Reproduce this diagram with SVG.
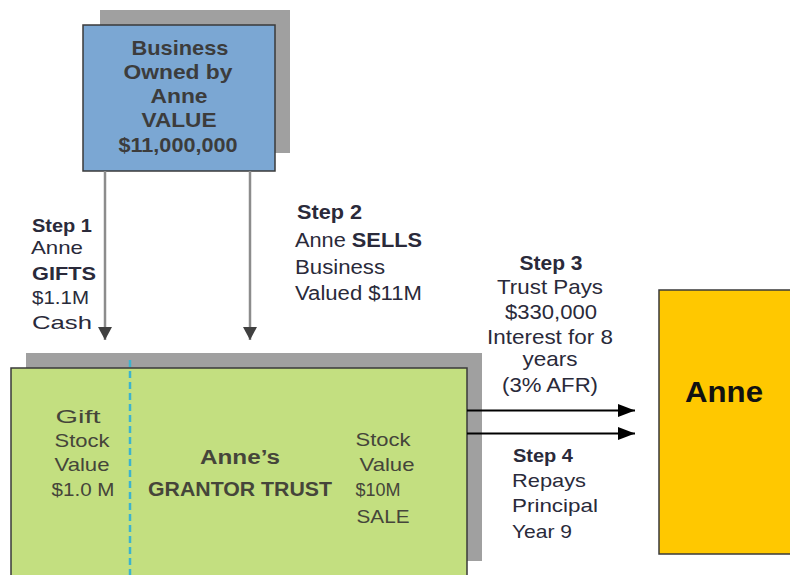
<svg xmlns="http://www.w3.org/2000/svg" width="790" height="575" viewBox="0 0 790 575">
  <defs>
    <marker id="headGray" viewBox="0 0 13 14" refX="13" refY="7" markerWidth="13" markerHeight="14" markerUnits="userSpaceOnUse" orient="auto">
      <path d="M0,0 L13,7 L0,14 Z" fill="#404040"/>
    </marker>
    <marker id="headBlack" viewBox="0 0 17 13" refX="17" refY="6.5" markerWidth="17" markerHeight="13" markerUnits="userSpaceOnUse" orient="auto">
      <path d="M0,0 L17,6.5 L0,13 Z" fill="#000"/>
    </marker>
  </defs>
  <style>
    text { font-family: "Liberation Sans", Arial, sans-serif; font-size: 19px; fill: #2a2a3a; }
    .b { font-weight: bold; }
    .c { text-anchor: middle; }
    .box-txt { fill: #3c3c3c; font-size: 21px; }
    .green-txt { fill: #45453a; font-size: 19px; }
    .step3 { font-size: 21px; }
    .step2 { font-size: 20px; }
    .shadow { fill: #a0a0a0; }
    .box { stroke: #3a3a3a; stroke-width: 1.5; }
  </style>
  <rect width="790" height="575" fill="#fff"/>

  <g id="business">
    <rect class="shadow" x="100" y="10" width="190" height="143"/>
    <rect class="box" x="83" y="25" width="192" height="146" fill="#7ba7d3"/>
    <text class="b c box-txt" x="180" y="55" textLength="97" lengthAdjust="spacingAndGlyphs">Business</text>
    <text class="b c box-txt" x="178" y="79" textLength="109" lengthAdjust="spacingAndGlyphs">Owned by</text>
    <text class="b c box-txt" x="179" y="103" textLength="57" lengthAdjust="spacingAndGlyphs">Anne</text>
    <text class="b c box-txt" x="179" y="127" textLength="75" lengthAdjust="spacingAndGlyphs">VALUE</text>
    <text class="b c box-txt" x="178" y="152" textLength="119" lengthAdjust="spacingAndGlyphs">$11,000,000</text>
  </g>

  <g id="trust">
    <rect class="shadow" x="26" y="353" width="456" height="208"/>
    <rect class="box" x="11" y="368" width="456" height="215" fill="#c3df80"/>
    <line x1="130" y1="360" x2="130" y2="575" stroke="#3db3cd" stroke-width="2.5" stroke-dasharray="7,4"/>
    <text class="c green-txt" x="78" y="423" textLength="45" lengthAdjust="spacingAndGlyphs">Gift</text>
    <text class="c green-txt" x="82" y="447" textLength="55" lengthAdjust="spacingAndGlyphs">Stock</text>
    <text class="c green-txt" x="82" y="471" textLength="55" lengthAdjust="spacingAndGlyphs">Value</text>
    <text class="c green-txt" x="83" y="496" textLength="63" lengthAdjust="spacingAndGlyphs">$1.0 M</text>
    <text class="b c green-txt" x="240" y="464" style="font-size:20px" textLength="80" lengthAdjust="spacingAndGlyphs">Anne’s</text>
    <text class="b c green-txt" x="240" y="496" style="font-size:20px" textLength="184" lengthAdjust="spacingAndGlyphs">GRANTOR TRUST</text>
    <text class="c green-txt" x="383" y="446" textLength="55" lengthAdjust="spacingAndGlyphs">Stock</text>
    <text class="c green-txt" x="387" y="471" textLength="55" lengthAdjust="spacingAndGlyphs">Value</text>
    <text class="c green-txt" x="378" y="496" textLength="45" lengthAdjust="spacingAndGlyphs">$10M</text>
    <text class="c green-txt" x="383" y="523" textLength="53" lengthAdjust="spacingAndGlyphs">SALE</text>
  </g>

  <g id="anne">
    <rect class="box" x="659" y="290" width="140" height="264" fill="#ffc800"/>
    <text class="b c" x="724" y="402" style="font-size:30px; fill:#111" textLength="78" lengthAdjust="spacingAndGlyphs">Anne</text>
  </g>

  <g id="connectors">
    <line x1="105" y1="171" x2="105" y2="340" stroke="#8c8c8c" stroke-width="2.5" marker-end="url(#headGray)"/>
    <line x1="250" y1="171" x2="250" y2="340" stroke="#8c8c8c" stroke-width="2.5" marker-end="url(#headGray)"/>
    <line x1="467" y1="410.5" x2="635" y2="410.5" stroke="#000" stroke-width="2" marker-end="url(#headBlack)"/>
    <line x1="467" y1="433.5" x2="635" y2="433.5" stroke="#000" stroke-width="2" marker-end="url(#headBlack)"/>
  </g>

  <g id="labels">
    <text class="b" x="32" y="232" textLength="60" lengthAdjust="spacingAndGlyphs">Step 1</text>
    <text x="31" y="254" textLength="52" lengthAdjust="spacingAndGlyphs">Anne</text>
    <text class="b" x="32" y="280" textLength="64" lengthAdjust="spacingAndGlyphs">GIFTS</text>
    <text x="32" y="304" textLength="57" lengthAdjust="spacingAndGlyphs">$1.1M</text>
    <text x="32" y="329" textLength="60" lengthAdjust="spacingAndGlyphs">Cash</text>

    <text class="b step2" x="297" y="219" textLength="65" lengthAdjust="spacingAndGlyphs">Step 2</text>
    <text class="step2" x="295" y="247" textLength="127" lengthAdjust="spacingAndGlyphs">Anne <tspan class="b">SELLS</tspan></text>
    <text class="step2" x="295" y="274" textLength="90" lengthAdjust="spacingAndGlyphs">Business</text>
    <text class="step2" x="295" y="300" textLength="127" lengthAdjust="spacingAndGlyphs">Valued $11M</text>

    <text class="b c step3" x="551" y="270" textLength="63" lengthAdjust="spacingAndGlyphs">Step 3</text>
    <text class="c step3" x="550" y="294" textLength="106" lengthAdjust="spacingAndGlyphs">Trust Pays</text>
    <text class="c step3" x="551" y="319" textLength="92" lengthAdjust="spacingAndGlyphs">$330,000</text>
    <text class="c step3" x="550" y="344" textLength="126" lengthAdjust="spacingAndGlyphs">Interest for 8</text>
    <text class="c step3" x="550" y="366" textLength="55" lengthAdjust="spacingAndGlyphs">years</text>
    <text class="c step3" x="550" y="392" textLength="96" lengthAdjust="spacingAndGlyphs">(3% AFR)</text>

    <text class="b" x="513" y="462" textLength="60" lengthAdjust="spacingAndGlyphs">Step 4</text>
    <text x="512" y="487" textLength="74" lengthAdjust="spacingAndGlyphs">Repays</text>
    <text x="512" y="512" textLength="86" lengthAdjust="spacingAndGlyphs">Principal</text>
    <text x="512" y="538" textLength="60" lengthAdjust="spacingAndGlyphs">Year 9</text>
  </g>
</svg>
